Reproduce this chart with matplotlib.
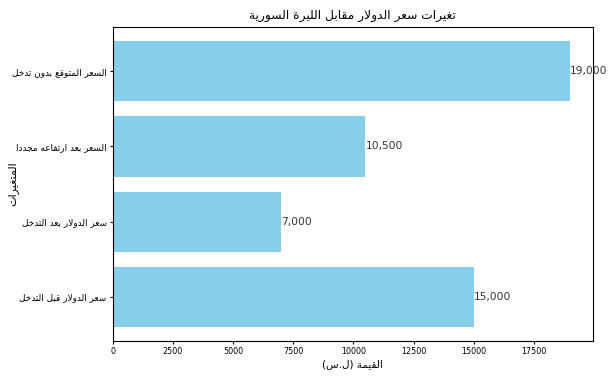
"""
سعر الدولار مقابل الليرة السورية - رسم أعمدة أفقية.
"""

import matplotlib
matplotlib.use("Agg")
import matplotlib.pyplot as plt

categories = [
    "سعر الدولار قبل التدخل",
    "سعر الدولار بعد التدخل",
    "السعر بعد ارتفاعه مجددا",
    "السعر المتوقع بدون تدخل",
]
values = [15000, 7000, 10500, 19000]

title = "تغيرات سعر الدولار مقابل الليرة السورية"
xlabel = "القيمة (ل.س)"
ylabel = "المتغيرات"

# أشكال العرض العربية (معزول، نهائي، ابتدائي، وسطي)
DUAL = {
    "ب": 0xFE8F, "ت": 0xFE95, "ث": 0xFE99, "ج": 0xFE9D, "ح": 0xFEA1,
    "خ": 0xFEA5, "س": 0xFEB1, "ش": 0xFEB5, "ص": 0xFEB9, "ض": 0xFEBD,
    "ط": 0xFEC1, "ظ": 0xFEC5, "ع": 0xFEC9, "غ": 0xFECD, "ف": 0xFED1,
    "ق": 0xFED5, "ك": 0xFED9, "ل": 0xFEDD, "م": 0xFEE1, "ن": 0xFEE5,
    "ه": 0xFEE9, "ي": 0xFEF1,
}
RIGHT = {
    "ا": 0xFE8D, "ة": 0xFE93, "د": 0xFEA9, "ذ": 0xFEAB, "ر": 0xFEAD,
    "ز": 0xFEAF, "و": 0xFEED, "ى": 0xFEEF,
}
MIRROR = {"(": ")", ")": "("}


def shape(text):
    out = []
    i = 0
    n = len(text)
    while i < n:
        c = text[i]
        prev = text[i - 1] if i > 0 else ""
        nxt = text[i + 1] if i + 1 < n else ""
        joins_prev = prev in DUAL
        if c == "ل" and nxt == "ا":
            out.append(chr(0xFEFC if joins_prev else 0xFEFB))
            i += 2
            continue
        if c in DUAL:
            joins_next = nxt in DUAL or nxt in RIGHT
            base = DUAL[c]
            if joins_prev and joins_next:
                out.append(chr(base + 3))
            elif joins_next:
                out.append(chr(base + 2))
            elif joins_prev:
                out.append(chr(base + 1))
            else:
                out.append(chr(base))
        elif c in RIGHT:
            out.append(chr(RIGHT[c] + (1 if joins_prev else 0)))
        else:
            out.append(c)
        i += 1
    # ترتيب من اليمين إلى اليسار
    return "".join(MIRROR.get(ch, ch) for ch in reversed(out))


plt.rcParams["font.family"] = ["DejaVu Sans"]

fig, ax = plt.subplots(figsize=(6.13, 3.76), dpi=100)
fig.subplots_adjust(left=0.184, right=0.967, top=0.928, bottom=0.093)

bars = ax.barh([shape(c) for c in categories], values, color="skyblue")
for bar, v in zip(bars, values):
    ax.text(bar.get_width(), bar.get_y() + bar.get_height() / 2, f"{v:,}",
            ha="left", va="center", fontsize=7.7, color="#333333")

ax.set_title(shape(title), fontsize=8.8)
ax.set_xlabel(shape(xlabel), fontsize=7.5, labelpad=2)
ax.set_ylabel(shape(ylabel), fontsize=8)
ax.yaxis.set_label_coords(-0.198, 0.5)
ax.tick_params(axis="x", labelsize=5.8, length=2.5, pad=2)
ax.tick_params(axis="y", labelsize=6.4, length=2.5, pad=2)

fig.savefig("out.png", dpi=100)
